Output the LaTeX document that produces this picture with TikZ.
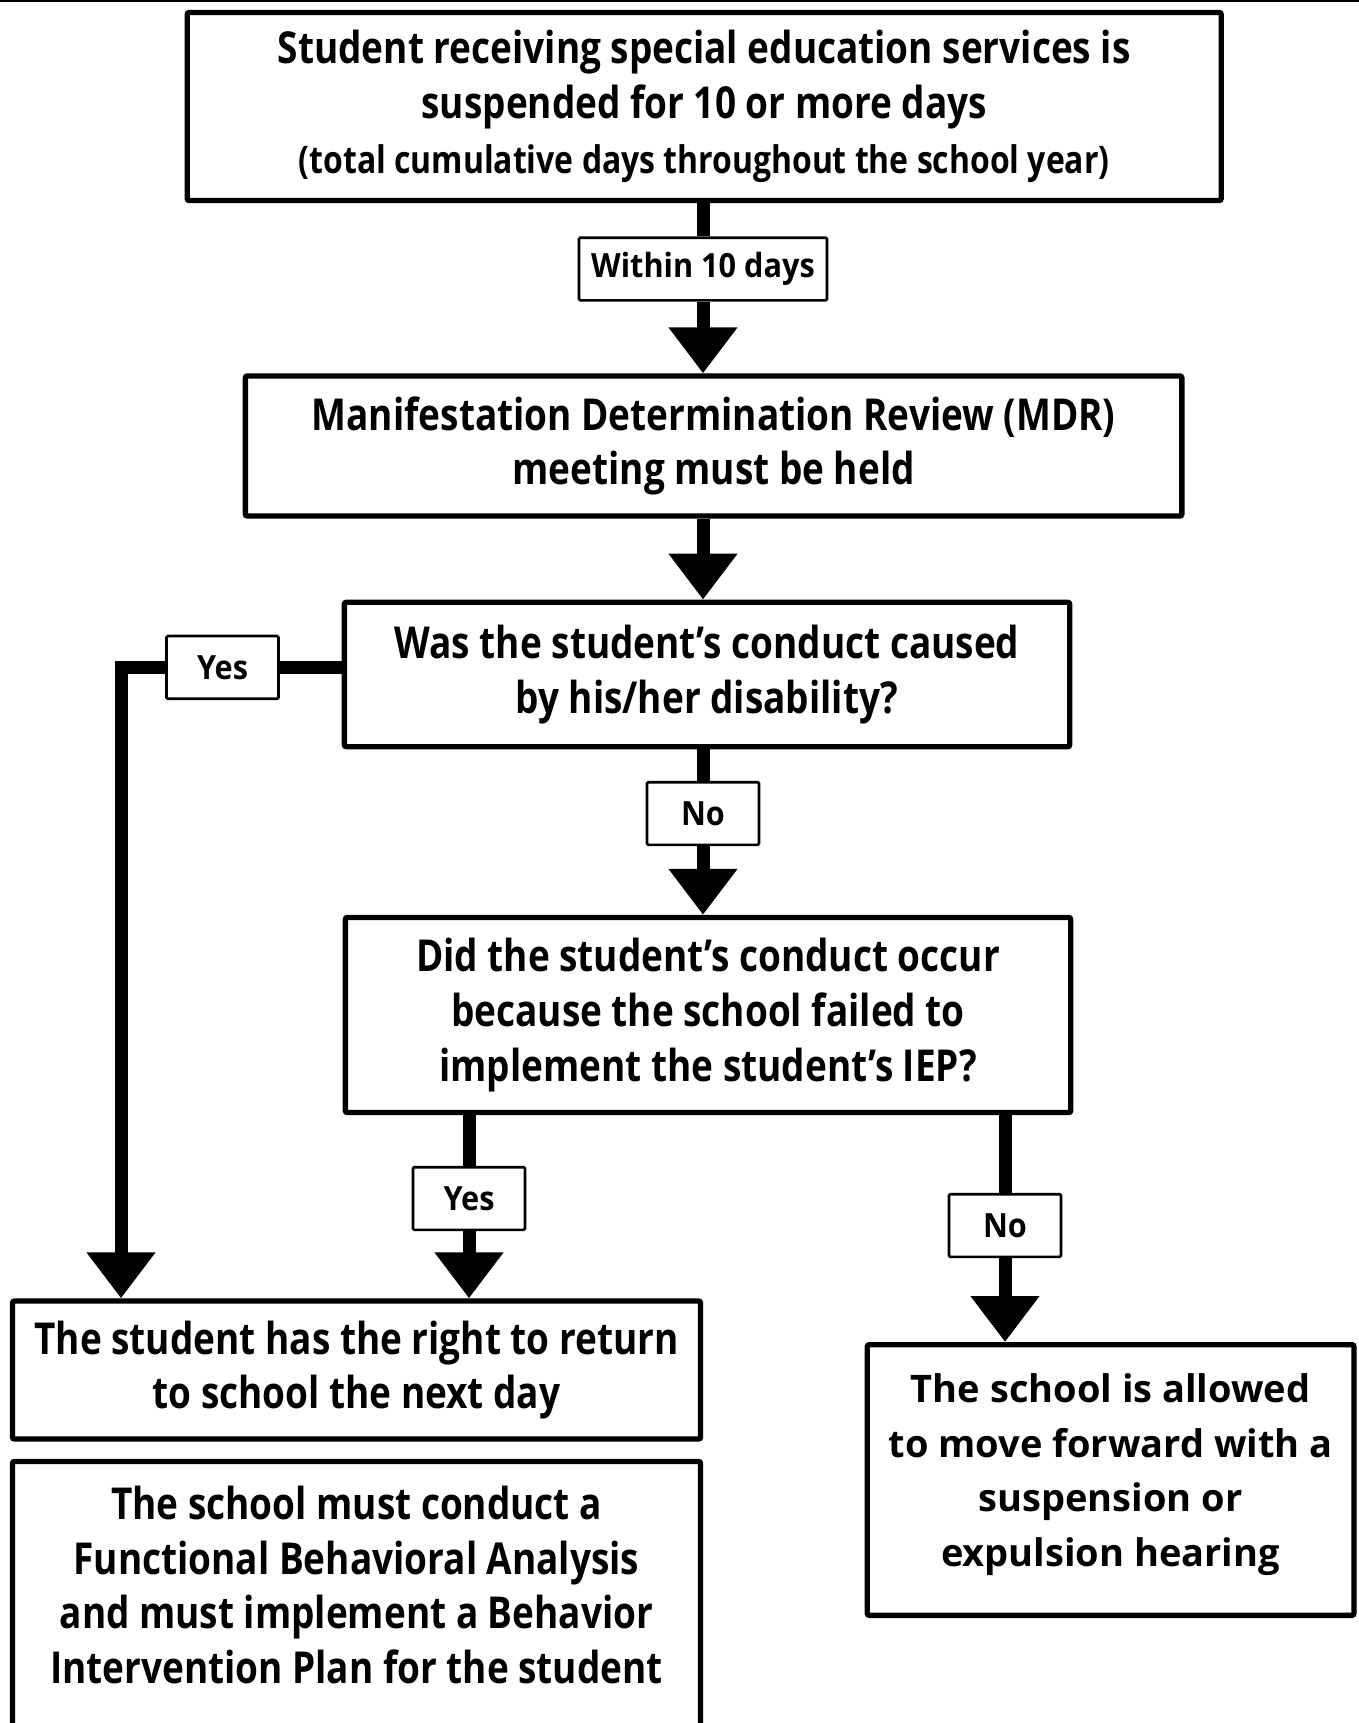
\documentclass[tikz,border=0pt]{standalone}
\usepackage{fontspec}
\setmainfont{Open Sans}
\newfontfamily\narrowfont{Open Sans}[FakeStretch=0.84]
\newfontfamily\tagfont{Open Sans}[FakeStretch=0.92]
\usetikzlibrary{arrows.meta}

\begin{document}
\begin{tikzpicture}[x=0.75pt,y=-0.75pt,
    box/.style={draw,line width=4pt,rounded corners=1.5pt,align=center,inner sep=0pt,
        font=\narrowfont\bfseries\fontsize{33}{41}\selectfont},
    tag/.style={draw,fill=white,line width=2pt,rounded corners=1pt,inner sep=0pt,
        minimum width=84pt,minimum height=47pt,font=\tagfont\bfseries\fontsize{25}{28}\selectfont},
    link/.style={line width=9.75pt},
    flow/.style={line width=9.75pt,-{Triangle[width=49.5pt,length=34.5pt]}}]
    \useasboundingbox (0,0) rectangle (1359,1723);
    \clip (0,0) rectangle (1359,1723);
    \draw[line width=1.5pt] (0,1) -- (1359,1);

    \node[box,minimum width=775.5pt,minimum height=141pt] (start) at (704.2,106.5)
        {Student receiving special education services is\\ suspended for 10 or more days\\
         {\fontsize{28.5}{36}\selectfont (total cumulative days throughout the school year)}};
    \node[tag,minimum width=186pt] (within) at (703,269) {Within 10 days};
    \node[box,minimum width=702.4pt,minimum height=105pt] (mdr) at (713.6,446)
        {Manifestation Determination Review (MDR)\\ meeting must be held};
    \node[box,minimum width=544pt,minimum height=108.3pt] (caused) at (707,674.5)
        {Was the student’s conduct caused\\ by his/her disability?};
    \node[tag] (yesa) at (222.5,667.4) {Yes};
    \node[tag] (noa) at (703,813.5) {No};
    \node[box,minimum width=544pt,minimum height=146.3pt] (failed) at (708,1015)
        {Did the student’s conduct occur\\ because the school failed to\\ implement the student’s IEP?};
    \node[tag] (yesb) at (469,1198.5) {Yes};
    \node[tag] (nob) at (1005,1225.5) {No};
    \node[box,minimum width=516pt,minimum height=103.5pt] (return) at (356.5,1370)
        {The student has the right to return\\ to school the next day};
    \node[box,minimum width=516pt,minimum height=210.8pt] (plan) at (356.5,1602)
        {The school must conduct a\\ Functional Behavioral Analysis\\ and must implement a Behavior\\
         Intervention Plan for the student\rule[-26pt]{0pt}{0pt}};
    \node[box,minimum width=365pt,minimum height=203pt,font=\bfseries\fontsize{28.5}{41}\selectfont] (hearing) at (1110.6,1480)
        {The school is allowed\\ to move forward with a\\ suspension or\\ expulsion hearing\rule[-15pt]{0pt}{0pt}};
    \coordinate (turn) at (121,667.4);

    \draw[link] (start.south -| within.north) -- (within.north);
    \draw[flow] (within.south) -- (within.south |- mdr.north);
    \draw[flow] (mdr.south -| within) -- (caused.north -| within);
    \draw[link] (caused.west |- yesa.east) -- (yesa.east);
    \draw[flow] (yesa.west) -- (turn) -- (turn |- return.north);
    \draw[link] (caused.south -| noa.north) -- (noa.north);
    \draw[flow] (noa.south) -- (noa.south |- failed.north);
    \draw[link] (failed.south -| yesb.north) -- (yesb.north);
    \draw[flow] (yesb.south) -- (yesb.south |- return.north);
    \draw[link] (failed.south -| nob.north) -- (nob.north);
    \draw[flow] (nob.south) -- (nob.south |- hearing.north);
\end{tikzpicture}
\end{document}
